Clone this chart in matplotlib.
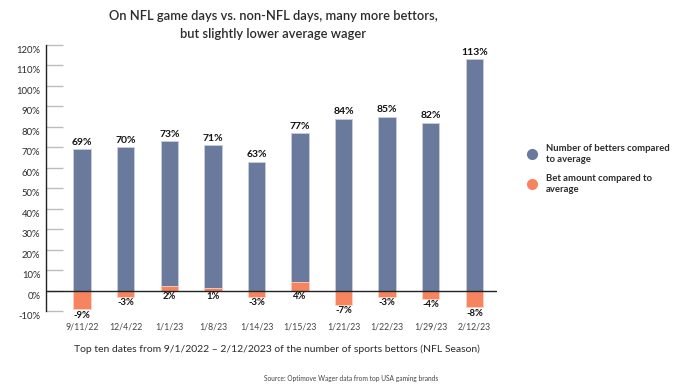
"""
plot.py

NFL game days vs. non-NFL days: bettors count and bet amount relative to average.
"""
import matplotlib
matplotlib.use('Agg')
import matplotlib.pyplot as plt
import matplotlib.transforms as mtransforms
from matplotlib.lines import Line2D

# Data
dates = ['9/11/22', '12/4/22', '1/1/23', '1/8/23', '1/14/23',
         '1/15/23', '1/21/23', '1/22/23', '1/29/23', '2/12/23']
betters_pct = [69, 70, 73, 71, 63, 77, 84, 85, 82, 113]
bet_amount_pct = [-9, -3, 2, 1, -3, 4, -7, -3, -4, -8]
y_ticks = list(range(-10, 121, 10))

# Style
BLUE = '#6a7a9c'
ORANGE = '#f6855f'
TEXT = '#2b2b2b'
plt.rcParams['font.family'] = ['Lato', 'DejaVu Sans']

fig = plt.figure(figsize=(6.98, 3.87), dpi=100)
ax = fig.add_axes([46 / 698, 1 - 311 / 387, (497 - 46) / 698, (311 - 45) / 387])

x = list(range(len(dates)))
ax.bar(x, betters_pct, width=0.4, color=BLUE, edgecolor='#c9cfe0', linewidth=0.6, zorder=2)
ax.bar(x, bet_amount_pct, width=0.4, color=ORANGE, edgecolor='#fbd2c2', linewidth=0.6, zorder=3)

# value labels
for xi, v in zip(x, betters_pct):
    ax.text(xi, v + 1.2, f'{v}%', ha='center', va='bottom', fontsize=7.5,
            fontweight='bold', color='#111111')
for xi, v in zip(x, bet_amount_pct):
    y = min(v, 0) - 0.8
    ax.text(xi, y, f'{v}%', ha='center', va='top', fontsize=6.8,
            fontweight='bold', color='#111111')

ax.axhline(0, color='#222222', linewidth=1, zorder=4)

ax.set_xlim(-0.83, 9.52)
ax.set_ylim(-10, 120)
ax.set_yticks(y_ticks)
ax.set_yticklabels([f'{t}%' for t in y_ticks])
ax.tick_params(axis='y', direction='in', length=12, width=1, color='#bdbdbd',
               labelsize=6.8, labelcolor=TEXT, pad=4)
# tick labels sit a little below their ticks in the original
shift = mtransforms.ScaledTranslation(0, -4.5 / 100, fig.dpi_scale_trans)
for lbl in ax.get_yticklabels():
    lbl.set_transform(lbl.get_transform() + shift)

ax.set_xticks(x)
ax.set_xticklabels(dates)
ax.tick_params(axis='x', length=0, labelsize=6.3, labelcolor='#444444', pad=8)

for side in ['top', 'right', 'bottom']:
    ax.spines[side].set_visible(False)
ax.spines['left'].set_color('#222222')
ax.spines['left'].set_linewidth(1)

# titles and notes
fig.text(273 / 698, 1 - 25 / 387,
         'On NFL game days vs. non-NFL days, many more bettors,\nbut slightly lower average wager',
         ha='center', va='center', fontsize=9.3, color=TEXT, linespacing=1.55,
         fontweight='semibold')
fig.text(277 / 698, 1 - 349 / 387,
         'Top ten dates from 9/1/2022 \u2013 2/12/2023 of the number of sports bettors (NFL Season)',
         ha='center', va='center', fontsize=7.5, color=TEXT)
fig.text(351 / 698, 1 - 379 / 387,
         'Source: Optimove Wager data from top USA gaming brands',
         ha='center', va='center', fontsize=4.8, color='#444444')

# legend
handles = [
    Line2D([], [], marker='o', linestyle='', markersize=7, color=BLUE),
    Line2D([], [], marker='o', linestyle='', markersize=7, color=ORANGE),
]
labels = ['Number of betters compared\nto average', 'Bet amount compared to\naverage']
fig.legend(handles, labels, loc='center left', bbox_to_anchor=(514 / 698, 1 - 169 / 387),
           frameon=False, labelspacing=1.1, handletextpad=0.5,
           labelcolor=TEXT, prop={'weight': 'bold', 'size': 6.8})

fig.savefig('out.png', dpi=100)
